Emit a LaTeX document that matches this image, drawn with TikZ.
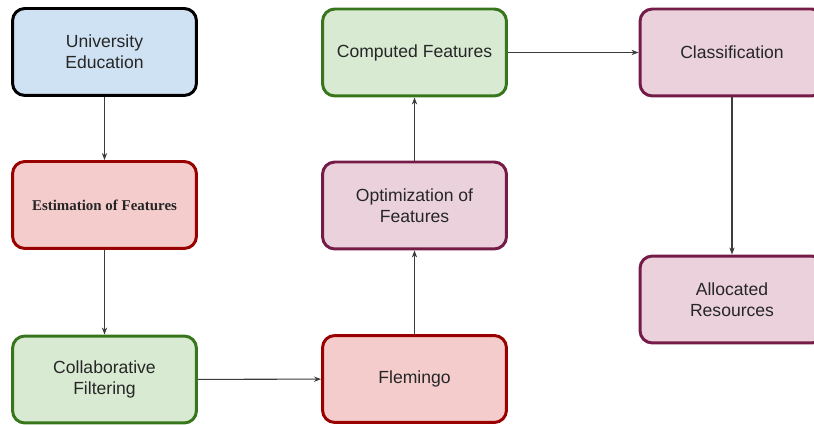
\documentclass[tikz,border=0pt]{standalone}
\usepackage{fontspec}
\setmainfont{Liberation Sans}
\newfontfamily\serifbold{Liberation Serif}
\usetikzlibrary{arrows.meta}
\definecolor{blueFill}{HTML}{CFE2F3}
\definecolor{redFill}{HTML}{F4CCCC}
\definecolor{redLine}{HTML}{990000}
\definecolor{greenFill}{HTML}{D9EAD3}
\definecolor{greenLine}{HTML}{38761D}
\definecolor{purpleFill}{HTML}{EAD1DC}
\definecolor{purpleLine}{HTML}{741B47}
\definecolor{arrowGray}{HTML}{3C3C3C}
\begin{document}
\begin{tikzpicture}[x=0.02cm,y=-0.02cm,
  box/.style={rectangle,rounded corners=7pt,line width=1.7pt,minimum width=3.68cm,minimum height=1.74cm,align=center,font=\fontsize{10}{12}\selectfont,text=black!85},
  bluebox/.style={box,draw=black,fill=blueFill},
  redbox/.style={box,draw=redLine,fill=redFill},
  greenbox/.style={box,draw=greenLine,fill=greenFill},
  purplebox/.style={box,draw=purpleLine,fill=purpleFill},
  link/.style={draw=arrowGray,line width=0.6pt,-{Stealth[length=4pt,width=3pt]}}]
\useasboundingbox (0,0) rectangle (814,425);
\node[bluebox] (edu) at (104.5,52) {University\\Education};
\node[redbox,font=\serifbold\bfseries\fontsize{8.5}{10}\selectfont] (est) at (104.5,205) {Estimation of Features};
\node[greenbox] (collab) at (104.5,379.5) {Collaborative\\Filtering};
\node[redbox] (flem) at (414.5,379) {Flemingo};
\node[purplebox] (opt) at (414.5,205.5) {Optimization of\\Features};
\node[greenbox] (comp) at (414.5,52.5) {Computed Features};
\node[purplebox] (class) at (732,52.5) {Classification};
\node[purplebox] (alloc) at (732,299.5) {Allocated\\Resources};
\draw[link] (edu) -- (est);
\draw[link] (est) -- (collab);
\draw[link] (collab) -- (flem);
\draw[link] (flem) -- (opt);
\draw[link] (opt) -- (comp);
\draw[link] (comp) -- (class);
\draw[link] (class) -- (alloc);
\end{tikzpicture}
\end{document}
